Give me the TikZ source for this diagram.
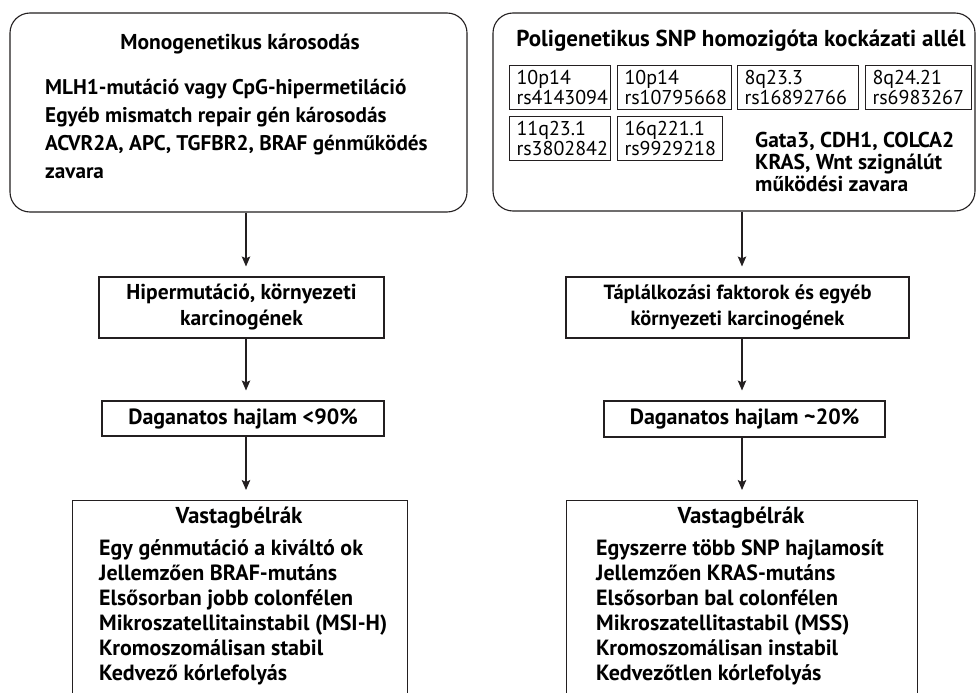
\documentclass[tikz,border=0pt]{standalone}
\usepackage{fontspec}
\setmainfont{PT Sans}
\usepackage{tikz}
\usetikzlibrary{arrows.meta,positioning,calc}
\definecolor{Ink}{HTML}{231F20}
\tikzset{
  bigbox/.style={draw=Ink,line width=1.1pt,rounded corners=20pt,inner sep=0pt},
  stepbox/.style={draw=Ink,line width=1.1pt,inner sep=0pt,align=center,font=\bfseries\fontsize{21.5}{26}\selectfont},
  snpbox/.style={draw=Ink,line width=1pt,anchor=north west,minimum height=44pt,inner xsep=7pt,align=left,font=\fontsize{20}{20}\selectfont},
  headtext/.style={font=\bfseries\fontsize{21.5}{28}\selectfont,inner sep=0pt},
  listtext/.style={anchor=north west,align=left,inner sep=0pt},
  arrow/.style={-{Stealth[length=10pt,width=8.5pt,inset=2pt]},line width=1.1pt,draw=Ink,shorten >=10pt}
}
\begin{document}
\begin{tikzpicture}[x=1pt,y=-1pt]
\clip (0,0) rectangle (977,693);
\fill[white] (0,0) rectangle (977,693);
% column axes
\coordinate (colL) at (246,0);
\coordinate (colR) at (742,0);
% top boxes
\node[bigbox,minimum width=457pt,minimum height=199pt] (mono) at (238.5,112.5) {};
\node[headtext] (monotitle) at (240,44) {Monogenetikus károsodás};
\node[listtext,font=\bfseries\fontsize{21.2}{28}\selectfont] (monolist) at (45,79)
  {MLH1-mutáció vagy CpG-hipermetiláció\\Egyéb mismatch repair gén károsodás\\ACVR2A, APC, TGFBR2, BRAF génműködés\\zavara};
\node[bigbox,minimum width=482pt,minimum height=198pt] (poly) at (734,112) {};
\node[headtext,font=\bfseries\fontsize{23}{28}\selectfont] (polytitle) at (741,41) {Poligenetikus SNP homozigóta kockázati allél};
\node[snpbox,text width=87pt] (snpA) at (509,65) {10p14\\rs4143094};
\node[snpbox,text width=100pt] (snpB) at (617,65) {10p14\\rs10795668};
\node[snpbox,text width=107pt] (snpC) at (737,65) {8q23.3\\rs16892766};
\node[snpbox,text width=92pt] (snpD) at (865,65) {8q24.21\\rs6983267};
\node[snpbox,text width=87pt] (snpE) at (509,116) {11q23.1\\rs3802842};
\node[snpbox,text width=91pt] (snpF) at (617,116) {16q221.1\\rs9929218};
\node[listtext,font=\bfseries\fontsize{21.5}{22}\selectfont] (polygenes) at (755,132)
  {Gata3, CDH1, COLCA2\\KRAS, Wnt szignálút\\működési zavara};
% middle steps
\node[stepbox,minimum width=285pt,minimum height=61pt] (hyperL) at (241.5,307.5) {Hipermutáció, környezeti\\karcinogének};
\node[stepbox,font=\bfseries\fontsize{22}{26}\selectfont,minimum width=282pt,minimum height=35pt] (riskL) at (243,418.5) {Daganatos hajlam <90\%};
\node[stepbox,font=\bfseries\fontsize{20.5}{26}\selectfont,minimum width=343pt,minimum height=61pt] (dietR) at (737.5,307.5) {Táplálkozási faktorok és egyéb\\környezeti karcinogének};
\node[stepbox,font=\bfseries\fontsize{22}{26}\selectfont,minimum width=281pt,minimum height=36pt] (riskR) at (744.5,419) {Daganatos hajlam \textasciitilde20\%};
% bottom boxes
\node[draw=Ink,line width=1.1pt,anchor=north west,minimum width=335pt,minimum height=230pt,inner sep=0pt] (crcL) at (72,500) {};
\node[headtext,font=\bfseries\fontsize{23}{25}\selectfont] (crcLtitle) at (239,518) {Vastagbélrák};
\node[listtext,font=\bfseries\fontsize{22}{25}\selectfont] (crcLlist) at (99,539.5)
  {Egy génmutáció a kiváltó ok\\Jellemzően BRAF-mutáns\\Elsősorban jobb colonfélen\\Mikroszatellitainstabil (MSI-H)\\Kromoszomálisan stabil\\Kedvező kórlefolyás};
\node[draw=Ink,line width=1.1pt,anchor=north west,minimum width=351pt,minimum height=230pt,inner sep=0pt] (crcR) at (566,500) {};
\node[headtext,font=\bfseries\fontsize{23}{25}\selectfont] (crcRtitle) at (741,518) {Vastagbélrák};
\node[listtext,font=\bfseries\fontsize{22}{25}\selectfont] (crcRlist) at (596,539.5)
  {Egyszerre több SNP hajlamosít\\Jellemzően KRAS-mutáns\\Elsősorban bal colonfélen\\Mikroszatellitastabil (MSS)\\Kromoszomálisan instabil\\Kedvezőtlen kórlefolyás};
% arrows
\draw[arrow] (mono.south -| colL) -- (hyperL.north -| colL);
\draw[arrow] (hyperL.south -| colL) -- (riskL.north -| colL);
\draw[arrow] (riskL.south -| colL) -- (crcL.north -| colL);
\draw[arrow] (poly.south -| colR) -- (dietR.north -| colR);
\draw[arrow] (dietR.south -| colR) -- (riskR.north -| colR);
\draw[arrow] (riskR.south -| colR) -- (crcR.north -| colR);
\end{tikzpicture}
\end{document}
